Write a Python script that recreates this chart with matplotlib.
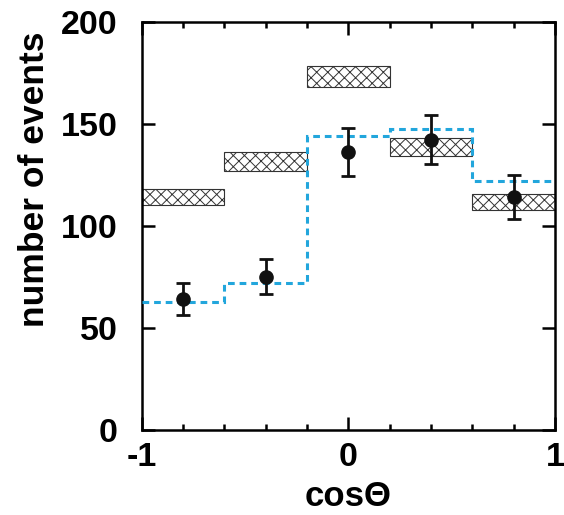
import matplotlib
matplotlib.use("Agg")
import matplotlib.pyplot as plt
from matplotlib.ticker import MultipleLocator
import numpy as np

# Data
bin_edges = [-1.0, -0.6, -0.2, 0.2, 0.6, 1.0]
bin_centers = [-0.8, -0.4, 0.0, 0.4, 0.8]
data_values = [64, 75, 136, 142, 114]
data_errors = [8, 8.5, 11.7, 12, 10.7]
mc_values = [62.5, 72, 144, 147.5, 122]
band_low = [110, 127, 168, 134, 107.5]
band_high = [118, 136, 178, 143, 115.5]

plt.rcParams['font.family'] = ['Liberation Sans', 'DejaVu Sans']
plt.rcParams['hatch.linewidth'] = 0.7
plt.rcParams['hatch.color'] = '#444444'

fig = plt.figure(figsize=(5.64, 5.15), dpi=100)
ax = fig.add_axes([0.251, 0.166, 0.733, 0.792])

# hatched bands
for i in range(len(bin_centers)):
    ax.bar(bin_centers[i], band_high[i] - band_low[i], bottom=band_low[i],
           width=bin_edges[i + 1] - bin_edges[i], facecolor='white',
           edgecolor='#333333', linewidth=0.8, hatch='xxx', zorder=2)

# dashed histogram
ax.stairs(mc_values, bin_edges, baseline=None, color='#22a6dc',
          linestyle=(0, (2.2, 1.6)), linewidth=2.2, zorder=3)

# data points
ax.errorbar(bin_centers, data_values, yerr=data_errors, fmt='o', color='#111111',
            markersize=9.5, elinewidth=2, capsize=5, capthick=2, zorder=4)

ax.set_xlim(-1, 1)
ax.set_ylim(0, 200)
ax.xaxis.set_minor_locator(MultipleLocator(0.2))
ax.tick_params(which='both', direction='in', top=True, right=True,
               width=1.8, labelsize=24.5)
ax.tick_params(which='major', length=9.5)
ax.tick_params(which='minor', length=4.5)
ax.tick_params(axis='y', which='major', pad=17)
ax.tick_params(axis='x', which='major', pad=9)
ax.set_xticks([-1, 0, 1])
ax.set_xticklabels(['-1', '0', '1'], fontweight='bold')
ax.set_yticks([0, 50, 100, 150, 200])
ax.set_yticklabels(['0', '50', '100', '150', '200'], fontweight='bold')
for s in ax.spines.values():
    s.set_linewidth(1.8)

ax.set_xlabel('cosΘ', fontsize=25, fontweight='bold', labelpad=5)
ax.set_ylabel('number of events', fontsize=25.5, fontweight='bold')
ax.yaxis.set_label_coords(-0.218, 0.614)

fig.savefig('out.png', dpi=100)
